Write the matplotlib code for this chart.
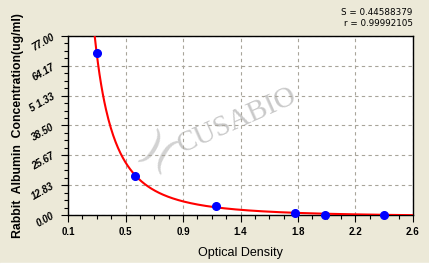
import numpy as np
import matplotlib.pyplot as plt
from matplotlib.ticker import FixedLocator
from matplotlib.patches import Rectangle

# standard points
od = [0.308, 0.586, 1.17, 1.743, 1.962, 2.39]
conc = [69.5, 16.9, 4.0, 0.9, 0.2, 0.0]

x_ticks = [0.1, 0.5166667, 0.9333333, 1.35, 1.7666667, 2.1833333, 2.6]
x_labels = ['0.1', '0.5', '0.9', '1.4', '1.8', '2.2', '2.6']
y_ticks = [0.0, 12.83, 25.67, 38.50, 51.33, 64.17, 77.00]
y_labels = ['0.00', '12.83', '25.67', '38.50', '5 1.33', '64.17', '77.00']

# fit y = a * x^b + c to the standards (grid over b, linear lstsq for a, c)
xd = np.array(od)
yd = np.array(conc)
best = None
for b in np.linspace(-4, -0.5, 351):
    A = np.column_stack([xd ** b, np.ones_like(xd)])
    coef, res, _, _ = np.linalg.lstsq(A, yd, rcond=None)
    err = np.sum((A @ coef - yd) ** 2)
    if best is None or err < best[0]:
        best = (err, b, coef)
_, b_fit, (a_fit, c_fit) = best
xc = np.linspace(0.27, 2.6, 400)
yc = a_fit * xc ** b_fit + c_fit

bg = '#ece9d8'
fig = plt.figure(figsize=(4.29, 2.67), dpi=100, facecolor=bg)
fig.patches.append(Rectangle((0, 0), 1, 4 / 267, transform=fig.transFigure,
                             color='white', zorder=0))
ax = fig.add_axes([68 / 429, 1 - 215 / 267, 345 / 429, 179 / 267])
ax.set_facecolor('white')

# watermark
ax.text(0.49, 0.53, 'CUSABIO', transform=ax.transAxes, rotation=24,
        fontsize=21, family='Liberation Serif', color='#c9c9c9',
        ha='center', va='center', zorder=0)
ax.text(0.26, 0.34, ')(', transform=ax.transAxes, rotation=-30,
        fontsize=30, family='DejaVu Serif', color='#d2d2d2',
        ha='center', va='center', zorder=0)

ax.plot(xc, yc, color='red', lw=1.5, zorder=3)
ax.plot(od, conc, 'o', color='blue', markersize=5.5, zorder=4, clip_on=False)

ax.set_xlim(0.1, 2.6)
ax.set_ylim(0, 77)
ax.xaxis.set_major_locator(FixedLocator(x_ticks))
ax.set_xticklabels(x_labels)
ax.xaxis.set_minor_locator(FixedLocator(np.linspace(0.1, 2.6, 25)))
ax.yaxis.set_major_locator(FixedLocator(y_ticks))
ax.set_yticklabels(y_labels)
ax.yaxis.set_minor_locator(FixedLocator(np.linspace(0, 77, 25)))

ax.grid(True, which='major', color='#a8a49a', linestyle=(0, (3, 3)), lw=0.8)
ax.tick_params(which='major', direction='out', length=5, width=0.8)
ax.tick_params(which='minor', direction='out', length=3, width=0.8)
for s in ax.spines.values():
    s.set_linewidth(1.0)

for lab in ax.get_xticklabels():
    lab.set_fontsize(7)
    lab.set_fontweight('bold')
    lab.set_family('Liberation Sans')
for lab in ax.get_yticklabels():
    lab.set_fontsize(7)
    lab.set_fontweight('bold')
    lab.set_fontstyle('italic')
    lab.set_family('Liberation Sans')
    lab.set_rotation(30)

ax.set_xlabel('Optical Density', fontsize=9, family='Liberation Sans', labelpad=7)
ax.set_ylabel('Rabbit  Albumin  Concentration(ug/ml)', fontsize=8.8,
              fontweight='bold', family='Liberation Sans', labelpad=3)

fig.text(0.962, 0.955, 'S = 0.44588379', ha='right', va='center', fontsize=6.3,
         family='Liberation Sans Narrow')
fig.text(0.962, 0.912, 'r = 0.99992105', ha='right', va='center', fontsize=6.3,
         family='Liberation Sans Narrow')

fig.savefig('out.png', dpi=100, facecolor=bg)
